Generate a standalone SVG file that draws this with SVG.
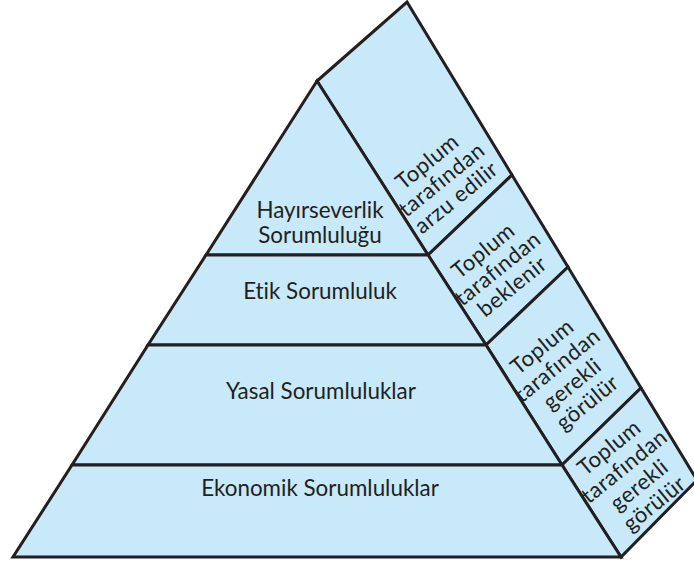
<svg xmlns="http://www.w3.org/2000/svg" width="694" height="563" viewBox="0 0 694 563">
<style>
.face{fill:#c7e9f9;stroke:#231f20;stroke-width:3;stroke-linejoin:miter}
.lbl{font-family:Lato,"Open Sans","Liberation Sans",sans-serif;font-size:22.4px;fill:#231f20;text-anchor:middle;font-variant-ligatures:none}
.side{font-family:Lato,"Open Sans","Liberation Sans",sans-serif;font-size:22px;fill:#231f20;text-anchor:middle;letter-spacing:0.5px;font-variant-ligatures:none}
</style>
<rect width="694" height="563" fill="#ffffff"/>
<g id="side-faces">
<g id="side1"><polygon class="face" points="317,81 407,2 512,175 428,255"/>
<g transform="translate(442,180) rotate(-39)"><text class="side" x="0" y="-16">Toplum</text><text class="side" x="0" y="7">tarafından</text><text class="side" x="0" y="30">arzu edilir</text></g></g>
<g id="side2"><polygon class="face" points="428,255 512,175 568,267 486,345"/>
<g transform="translate(498,269) rotate(-39)"><text class="side" x="0" y="-16">Toplum</text><text class="side" x="0" y="7">tarafından</text><text class="side" x="0" y="30">beklenir</text></g></g>
<g id="side3"><polygon class="face" points="486,345 568,267 641,388 562,465"/>
<g transform="translate(565,375) rotate(-39)"><text class="side" x="0" y="-29">Toplum</text><text class="side" x="0" y="-5">tarafından</text><text class="side" x="0" y="19">gerekli</text><text class="side" x="0" y="43">görülür</text></g></g>
<g id="side4"><polygon class="face" points="562,465 641,388 697,480 621,557"/>
<g transform="translate(632,476) rotate(-39)"><text class="side" x="0" y="-29">Toplum</text><text class="side" x="0" y="-5">tarafından</text><text class="side" x="0" y="19">gerekli</text><text class="side" x="0" y="43">görülür</text></g></g>
</g>
<g id="front-tiers">
<g id="tier-hayirseverlik"><polygon class="face" points="317,81 428,255 206,255"/>
<text class="lbl" x="320" y="218">Hayırseverlik</text><text class="lbl" x="320" y="243">Sorumluluğu</text></g>
<g id="tier-etik"><polygon class="face" points="206,255 428,255 486,345 148,345"/>
<text class="lbl" x="320" y="299">Etik Sorumluluk</text></g>
<g id="tier-yasal"><polygon class="face" points="148,345 486,345 562,465 72,465"/>
<text class="lbl" x="321" y="399">Yasal Sorumluluklar</text></g>
<g id="tier-ekonomik"><polygon class="face" points="72,465 562,465 621,557 13,557"/>
<text class="lbl" x="320" y="496">Ekonomik Sorumluluklar</text></g>
</g>
<g id="connectors"></g>
</svg>
